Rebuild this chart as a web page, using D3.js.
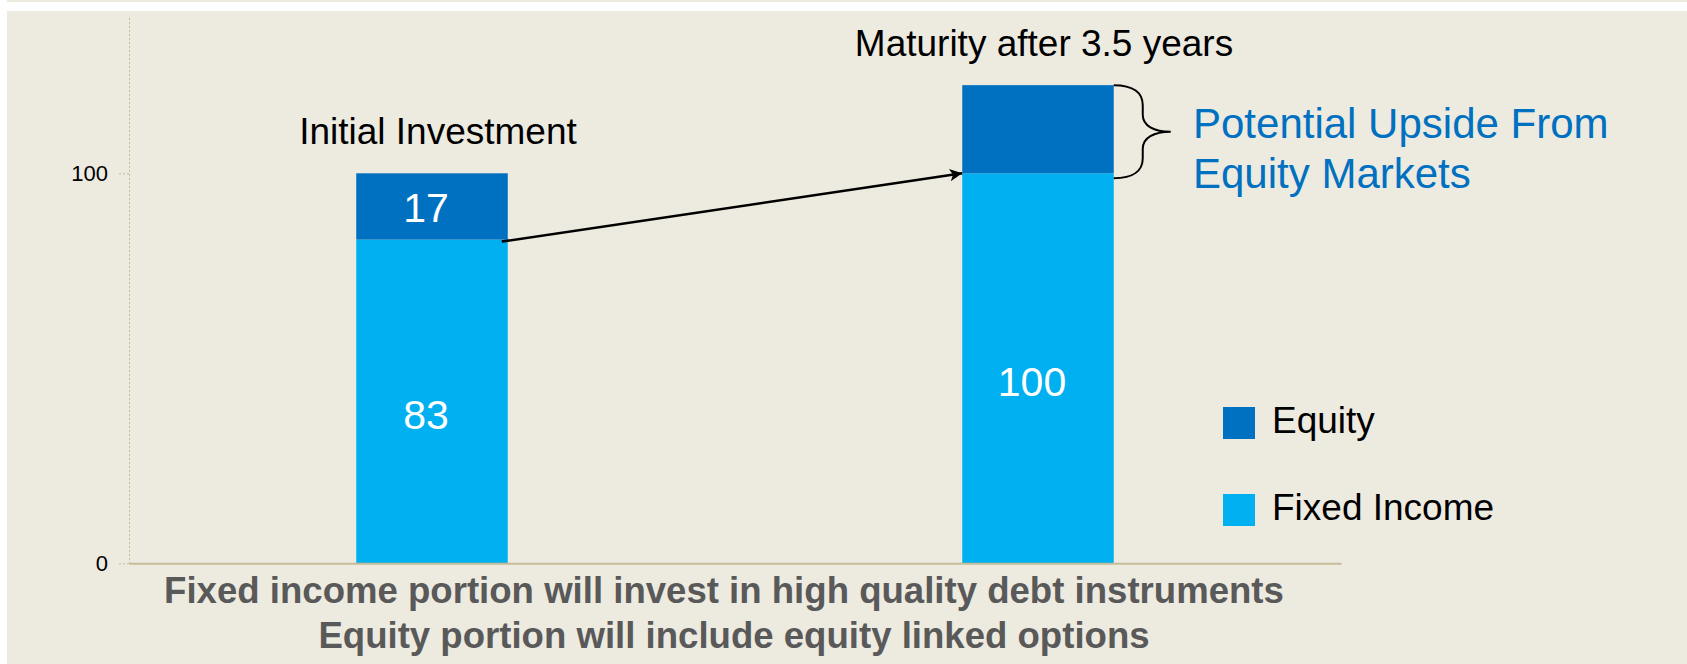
<!DOCTYPE html>
<html>
<head>
<meta charset="utf-8">
<style>
  body { margin: 0; background: #ffffff; }
  svg { display: block; font-family: "Liberation Sans", Arial, sans-serif; }
</style>
</head>
<body>
<script src="https://d3js.org/d3.v7.min.js"></script>
<script>
// chart data
var categories = ["Initial Investment", "Maturity after 3.5 years"];
var fixedIncome = [83, 100];
var equity = [17, 22.6];
var fixedLabels = ["83", "100"];
var equityLabels = ["17", ""];
var yTicks = [0, 100];
var legendNames = ["Equity", "Fixed Income"];
var upsideText = ["Potential Upside From", "Equity Markets"];
var footNotes = ["Fixed income portion will invest in high quality debt instruments",
                 "Equity portion will include equity linked options"];

var W = 1687, H = 664;
var bg = "#edeae0", dark = "#0070c0", light = "#00b0f0", axisCol = "#c4bd97";

var svg = d3.select("body").append("svg")
    .attr("width", W)
    .attr("height", H);

// panel (white margin on top and left, like the slide)
svg.append("rect").attr("x", 7).attr("y", 0).attr("width", W - 7).attr("height", 2).attr("fill", bg);
svg.append("rect").attr("x", 7).attr("y", 11).attr("width", W - 7).attr("height", H - 11).attr("fill", bg);

var x = d3.scaleBand()
    .domain(categories)
    .range([129, 1341])
    .paddingInner(0.75)
    .paddingOuter(0.375);

var y = d3.scaleLinear()
    .domain([0, 140])
    .range([563.3, 17.3]);

// y axis
var yAxis = svg.append("g")
    .attr("transform", "translate(129,0)")
    .call(d3.axisLeft(y).tickValues(yTicks).tickSize(10).tickSizeOuter(0).tickPadding(11));
yAxis.select(".domain").attr("stroke", axisCol).attr("stroke-dasharray", "2,2");
yAxis.selectAll(".tick line").attr("stroke", axisCol).attr("stroke-dasharray", "2,2");
yAxis.selectAll(".tick text").attr("font-size", 22).attr("fill", "#000")
    .attr("font-family", "Liberation Sans, Arial, sans-serif");

// stacked bars
var stack = categories.map(function (c, i) {
    return { cat: c, fixed: fixedIncome[i], eq: equity[i], fl: fixedLabels[i], el: equityLabels[i] };
});

svg.selectAll("rect.fixed")
    .data(stack)
    .enter().append("rect")
    .attr("class", "fixed")
    .attr("x", function (d) { return x(d.cat); })
    .attr("width", x.bandwidth())
    .attr("y", function (d) { return y(d.fixed); })
    .attr("height", function (d) { return y(0) - y(d.fixed); })
    .attr("fill", light);

svg.selectAll("rect.eq")
    .data(stack)
    .enter().append("rect")
    .attr("class", "eq")
    .attr("x", function (d) { return x(d.cat); })
    .attr("width", x.bandwidth())
    .attr("y", function (d) { return y(d.fixed + d.eq); })
    .attr("height", function (d) { return y(d.fixed) - y(d.fixed + d.eq); })
    .attr("fill", dark);

// x axis line
var xAxis = svg.append("g")
    .attr("transform", "translate(0," + y(0) + ")")
    .call(d3.axisBottom(x).tickSize(0).tickSizeOuter(0).tickFormat(""));
xAxis.select(".domain").attr("stroke", axisCol).attr("stroke-width", 2);

// data labels
svg.selectAll("text.fl")
    .data(stack)
    .enter().append("text")
    .attr("x", function (d) { return x(d.cat) + x.bandwidth() / 2 - 6; })
    .attr("y", function (d) { return (y(0) + y(d.fixed)) / 2 + 13; })
    .attr("dy", "0.35em")
    .attr("text-anchor", "middle")
    .attr("font-size", 41)
    .attr("fill", "#fff")
    .text(function (d) { return d.fl; });

svg.selectAll("text.el")
    .data(stack)
    .enter().append("text")
    .attr("x", function (d) { return x(d.cat) + x.bandwidth() / 2 - 6; })
    .attr("y", function (d) { return (y(d.fixed) + y(d.fixed + d.eq)) / 2 + 1; })
    .attr("dy", "0.35em")
    .attr("text-anchor", "middle")
    .attr("font-size", 41)
    .attr("fill", "#fff")
    .text(function (d) { return d.el; });

// category titles above the bars
svg.selectAll("text.cat")
    .data(stack)
    .enter().append("text")
    .attr("x", function (d) { return x(d.cat) + x.bandwidth() / 2 + 6; })
    .attr("y", function (d) { return y(d.fixed + d.eq) - 29; })
    .attr("text-anchor", "middle")
    .attr("font-size", 37)
    .attr("fill", "#000")
    .text(function (d) { return d.cat; });

// arrow from initial fixed income to maturity value
svg.append("defs").append("marker")
    .attr("id", "head")
    .attr("viewBox", "0 0 10 10")
    .attr("refX", 10).attr("refY", 5)
    .attr("markerWidth", 7).attr("markerHeight", 5)
    .attr("markerUnits", "strokeWidth")
    .attr("orient", "auto")
  .append("path")
    .attr("d", "M0,0L10,5L0,10L2.5,5z")
    .attr("fill", "#000");

svg.append("line")
    .attr("x1", x(categories[0]) + x.bandwidth() - 6)
    .attr("y1", y(fixedIncome[0]) + 2)
    .attr("x2", x(categories[1]))
    .attr("y2", y(fixedIncome[1]))
    .attr("stroke", "#000")
    .attr("stroke-width", 2.5)
    .attr("marker-end", "url(#head)");

// curly bracket next to the upside
var bx = x(categories[1]) + x.bandwidth();
var bTop = y(fixedIncome[1] + equity[1]);
var bBot = y(fixedIncome[1]) + 5;
var bMid = (bTop + bBot) / 2;
var p = d3.path();
p.moveTo(bx, bTop);
p.bezierCurveTo(bx + 20, bTop, bx + 29, bTop + 8, bx + 29, bTop + 20);
p.lineTo(bx + 29, bMid - 17);
p.bezierCurveTo(bx + 29, bMid - 6, bx + 40, bMid, bx + 57, bMid);
p.bezierCurveTo(bx + 40, bMid, bx + 29, bMid + 6, bx + 29, bMid + 17);
p.lineTo(bx + 29, bBot - 20);
p.bezierCurveTo(bx + 29, bBot - 8, bx + 20, bBot, bx, bBot);
svg.append("path")
    .attr("d", p.toString())
    .attr("fill", "none")
    .attr("stroke", "#000")
    .attr("stroke-width", 2);

svg.selectAll("text.up")
    .data(upsideText)
    .enter().append("text")
    .attr("x", 1193)
    .attr("y", function (d, i) { return 138 + i * 50; })
    .attr("font-size", 42)
    .attr("fill", dark)
    .text(function (d) { return d; });

// legend
var leg = svg.selectAll("g.leg")
    .data(legendNames)
    .enter().append("g")
    .attr("transform", function (d, i) { return "translate(1223," + (407 + i * 87) + ")"; });
leg.append("rect")
    .attr("width", 32).attr("height", 32)
    .attr("fill", function (d, i) { return i === 0 ? dark : light; });
leg.append("text")
    .attr("x", 49).attr("y", 26)
    .attr("font-size", 37)
    .attr("fill", "#000")
    .text(function (d) { return d; });

// footnote under the axis
svg.selectAll("text.foot")
    .data(footNotes)
    .enter().append("text")
    .attr("x", function (d, i) { return i === 0 ? 724 : 734; })
    .attr("y", function (d, i) { return 603 + i * 45; })
    .attr("text-anchor", "middle")
    .attr("font-size", 36.6)
    .attr("font-weight", "bold")
    .attr("fill", "#595959")
    .text(function (d) { return d; });
</script>
</body>
</html>
